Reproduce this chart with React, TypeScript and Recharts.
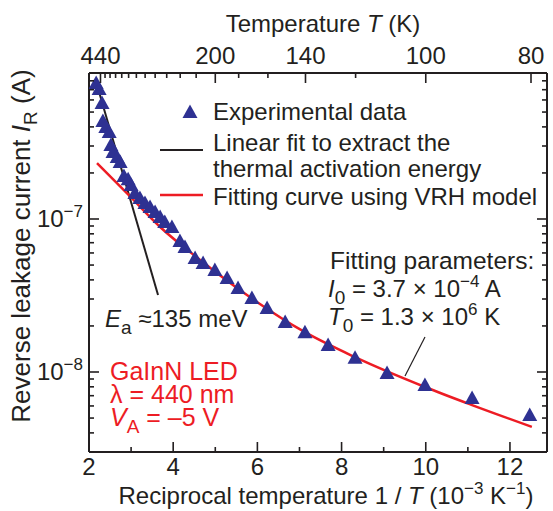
import React from 'react';
import { ComposedChart, Line, Scatter, XAxis, YAxis } from 'recharts';

const FONT = '"Liberation Sans", Arial, Helvetica, sans-serif';
const INK = '#231F20';
const NAVY = '#2E3192';
const RED = '#ED1C24';

// reciprocal temperature 1/T (10^-3 K^-1) and leakage current (A)
const expX = [
  2.17, 2.24, 2.31, 2.33, 2.4, 2.48, 2.52, 2.57, 2.67, 2.74, 2.83, 2.93, 3.0, 3.09, 3.21,
  3.33, 3.45, 3.57, 3.69, 3.8, 3.97, 4.16, 4.28, 4.52, 4.71, 4.99, 5.28, 5.54, 5.87, 6.23,
  6.66, 7.13, 7.68, 8.32, 9.08, 9.98, 11.1, 12.47,
];
const expI = [
  7.75e-7, 7.08e-7, 5.73e-7, 4.37e-7, 3.99e-7, 3.7e-7, 3.05e-7, 2.74e-7, 2.54e-7, 2.36e-7,
  1.91e-7, 1.82e-7, 1.67e-7, 1.48e-7, 1.37e-7, 1.27e-7, 1.2e-7, 1.11e-7, 1.03e-7, 9.55e-8,
  8.87e-8, 7.18e-8, 6.56e-8, 5.56e-8, 5.15e-8, 4.64e-8, 4.11e-8, 3.54e-8, 3.05e-8, 2.62e-8,
  2.12e-8, 1.82e-8, 1.5e-8, 1.24e-8, 9.84e-9, 8.22e-9, 6.76e-9, 5.24e-9,
];

// VRH fitting curve (red)
const fitX = [2.19, 2.97, 3.69, 4.64, 5.82, 7.13, 8.32, 9.98, 11.1, 12.52];
const fitI = [2.32e-7, 1.41e-7, 8.87e-8, 5.4e-8, 3.09e-8, 1.82e-8, 1.25e-8, 7.98e-9, 6.08e-9, 4.38e-9];

// Arrhenius linear fit (black)
const linX = [2.17, 3.64];
const linI = [7.85e-7, 3.19e-8];

const xMajor = [2, 4, 6, 8, 10, 12];
const xMinor = [3, 5, 7, 9, 11];
const tempMajor = [440, 200, 140, 100, 80];
const tempMinor = [420, 400, 380, 360, 340, 320, 300, 280, 260, 240, 220, 180, 160, 120];
const yMajor = [1e-8, 1e-7];
const yMinor = [
  3e-9, 4e-9, 5e-9, 6e-9, 7e-9, 8e-9, 9e-9,
  2e-8, 3e-8, 4e-8, 5e-8, 6e-8, 7e-8, 8e-8, 9e-8,
  2e-7, 3e-7, 4e-7, 5e-7, 6e-7, 7e-7, 8e-7, 9e-7,
];

const expData = expX.map((x, i) => ({ x, y: expI[i] }));
const fitData = fitX.map((x, i) => ({ x, y: fitI[i] }));
const linData = linX.map((x, i) => ({ x, y: linI[i] }));

const X_DOMAIN = [2, 12.88];
const Y_DOMAIN = [3e-9, 9e-7];

const isDecade = (v: number) => Math.abs(Math.log10(v) - Math.round(Math.log10(v))) < 1e-6;

function BottomTick(props: any) {
  const { x, y, payload } = props;
  const v = payload.value;
  const major = xMajor.includes(v);
  return (
    <g>
      <line x1={x} x2={x} y1={y} y2={y - (major ? 10 : 5)} stroke={INK} strokeWidth={1.6} />
      {major && (
        <text x={x} y={y + 23} textAnchor="middle" fontSize={24} fontFamily={FONT} fill={INK}>
          {v}
        </text>
      )}
    </g>
  );
}

function TopTick(props: any) {
  const { x, y, payload } = props;
  const t = Math.round(1000 / payload.value);
  const major = tempMajor.includes(t);
  return (
    <g>
      <line x1={x} x2={x} y1={y} y2={y + (major ? 10 : 5)} stroke={INK} strokeWidth={1.6} />
      {major && (
        <text x={x} y={y - 9} textAnchor="middle" fontSize={24} fontFamily={FONT} fill={INK}>
          {t}
        </text>
      )}
    </g>
  );
}

function LeftTick(props: any) {
  const { x, y, payload } = props;
  const v = payload.value;
  const major = isDecade(v);
  return (
    <g>
      <line x1={x} x2={x + (major ? 10 : 5)} y1={y} y2={y} stroke={INK} strokeWidth={1.6} />
      {major && (
        <text x={x - 6} y={y + 8} textAnchor="end" fontSize={24} fontFamily={FONT} fill={INK}>
          10
          <tspan dy={-10} fontSize={17}>
            {'\u2212' + Math.abs(Math.round(Math.log10(v)))}
          </tspan>
        </text>
      )}
    </g>
  );
}

function RightTick(props: any) {
  const { x, y, payload } = props;
  const major = isDecade(payload.value);
  return <line x1={x} x2={x - (major ? 10 : 5)} y1={y} y2={y} stroke={INK} strokeWidth={1.6} />;
}

function Triangle(props: any) {
  const { cx, cy } = props;
  return (
    <polygon
      points={`${cx},${cy - 7.5} ${cx - 7.5},${cy + 6} ${cx + 7.5},${cy + 6}`}
      fill={NAVY}
    />
  );
}

function Annotations() {
  const t = { fontFamily: FONT, fontSize: 24, fill: INK };
  const r = { fontFamily: FONT, fontSize: 25, fill: RED };
  return (
    <svg
      width={553}
      height={511}
      style={{ position: 'absolute', left: 0, top: 0, pointerEvents: 'none' }}
    >
      {/* axis titles */}
      <text x={323} y={32} textAnchor="middle" {...t}>
        Temperature <tspan fontStyle="italic">T</tspan> (K)
      </text>
      <text x={326} y={504} textAnchor="middle" {...t}>
        Reciprocal temperature 1 / <tspan fontStyle="italic">T</tspan> (10
        <tspan dy={-10} fontSize={17}>{'\u22123'}</tspan>
        <tspan dy={10}> K</tspan>
        <tspan dy={-10} fontSize={17}>{'\u22121'}</tspan>
        <tspan dy={10}>)</tspan>
      </text>
      <text transform="translate(30,246) rotate(-90)" textAnchor="middle" {...t} fontSize={26}>
        Reverse leakage current <tspan fontStyle="italic">I</tspan>
        <tspan dy={7} fontSize={19}>R</tspan>
        <tspan dy={-7}> (A)</tspan>
      </text>

      {/* legend */}
      <polygon points="190,104.5 182.5,118 197.5,118" fill={NAVY} />
      <text x={213} y={120} {...t}>Experimental data</text>
      <line x1={160} x2={203} y1={150} y2={150} stroke={INK} strokeWidth={2} />
      <text x={213} y={151} {...t}>Linear fit to extract the</text>
      <text x={213} y={177} {...t}>thermal activation energy</text>
      <line x1={160} x2={203} y1={195} y2={195} stroke={RED} strokeWidth={2.5} />
      <text x={213} y={205} {...t}>Fitting curve using VRH model</text>

      {/* fitting parameters */}
      <text x={330} y={269} {...t} fontSize={24.5}>Fitting parameters:</text>
      <text x={328} y={297} {...t}>
        <tspan fontStyle="italic">I</tspan>
        <tspan dy={7} fontSize={19}>0</tspan>
        <tspan dy={-7}> = 3.7 × 10</tspan>
        <tspan dy={-10} fontSize={17}>{'\u22124'}</tspan>
        <tspan dy={10}> A</tspan>
      </text>
      <text x={328} y={325} {...t}>
        <tspan fontStyle="italic">T</tspan>
        <tspan dy={7} fontSize={19}>0</tspan>
        <tspan dy={-7}> = 1.3 × 10</tspan>
        <tspan dy={-10} fontSize={17}>6</tspan>
        <tspan dy={10}> K</tspan>
      </text>
      <line x1={425} y1={337} x2={405} y2={376} stroke={INK} strokeWidth={1.2} />

      {/* activation energy */}
      <text x={105} y={327} {...t}>
        <tspan fontStyle="italic">E</tspan>
        <tspan dy={7} fontSize={19}>a</tspan>
        <tspan dy={-7}> ≈135 meV</tspan>
      </text>

      {/* sample info */}
      <text x={110} y={380} {...r}>GaInN LED</text>
      <text x={110} y={403} {...r}>λ = 440 nm</text>
      <text x={110} y={426} {...r}>
        <tspan fontStyle="italic">V</tspan>
        <tspan dy={7} fontSize={19}>A</tspan>
        <tspan dy={-7}> = –5 V</tspan>
      </text>
    </svg>
  );
}

export default function App() {
  const topTicks = [...tempMajor, ...tempMinor].map((tk) => 1000 / tk);
  return (
    <div style={{ position: 'absolute', left: 0, top: 0, width: 553, height: 511, background: '#fff' }}>
      <ComposedChart width={553} height={511} margin={{ top: 43, right: 2, bottom: 29, left: 49 }}>
        <XAxis
          dataKey="x"
          type="number"
          domain={X_DOMAIN}
          allowDataOverflow
          ticks={[...xMajor, ...xMinor]}
          interval={0}
          height={30}
          tickSize={0}
          tickMargin={0}
          tick={BottomTick}
          axisLine={{ stroke: INK, strokeWidth: 2 }}
        />
        <XAxis
          xAxisId="top"
          dataKey="x"
          orientation="top"
          type="number"
          domain={X_DOMAIN}
          allowDataOverflow
          ticks={topTicks}
          interval={0}
          height={30}
          tickSize={0}
          tickMargin={0}
          tick={TopTick}
          axisLine={{ stroke: INK, strokeWidth: 2 }}
        />
        <YAxis
          dataKey="y"
          type="number"
          scale="log"
          domain={Y_DOMAIN}
          allowDataOverflow
          ticks={[...yMajor, ...yMinor]}
          interval={0}
          width={40}
          tickSize={0}
          tickMargin={0}
          tick={LeftTick}
          axisLine={{ stroke: INK, strokeWidth: 2 }}
        />
        <YAxis
          yAxisId="right"
          orientation="right"
          type="number"
          scale="log"
          domain={Y_DOMAIN}
          allowDataOverflow
          ticks={[...yMajor, ...yMinor]}
          interval={0}
          width={4}
          tickSize={0}
          tickMargin={0}
          tick={RightTick}
          axisLine={{ stroke: INK, strokeWidth: 2 }}
        />
        <Line
          data={linData}
          dataKey="y"
          type="linear"
          stroke={INK}
          strokeWidth={2}
          dot={false}
          isAnimationActive={false}
        />
        {/* the VRH curve is plotted against the top (temperature) axis, same 1/T scale */}
        <Line
          xAxisId="top"
          data={fitData}
          dataKey="y"
          type="monotone"
          stroke={RED}
          strokeWidth={2.5}
          dot={false}
          isAnimationActive={false}
        />
        <Scatter data={expData} dataKey="y" shape={Triangle} isAnimationActive={false} />
      </ComposedChart>
      <Annotations />
    </div>
  );
}
